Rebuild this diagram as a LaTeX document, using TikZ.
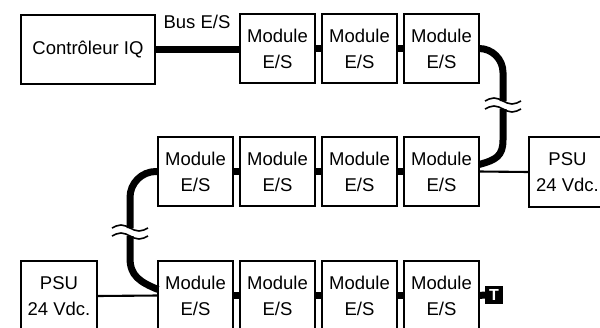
\documentclass[tikz,border=0pt]{standalone}
\usepackage{fontspec}
\setmainfont{Liberation Sans}
\begin{document}
\begin{tikzpicture}[x=1pt,y=-1pt,
  box/.style={draw, line width=2.1pt, anchor=north west, inner sep=0pt, outer sep=0pt,
    align=center, font=\fontsize{18.5}{26}\selectfont},
  modbox/.style={box, minimum width=75pt, minimum height=69pt},
  bus/.style={line width=7pt},
  wire/.style={line width=2.1pt},
  wave/.style={line width=1.6pt},
  lbl/.style={font=\fontsize{18.5}{26}\selectfont, anchor=base, inner sep=0pt},
  termbox/.style={fill=black, text=white, minimum width=18pt, minimum height=18pt,
    inner sep=0pt, outer sep=0pt, font=\fontsize{16}{16}\selectfont\bfseries}]
\useasboundingbox (0,0) rectangle (600,327);
\clip (0,0) rectangle (600,327);

% Row 1
\node[box, minimum width=134pt, minimum height=69pt] (ctrl) at (21,15) {Contrôleur IQ};
\node[modbox] (m11) at (240,14) {Module\\E/S};
\node[modbox] (m12) at (322,14) {Module\\E/S};
\node[modbox] (m13) at (404,14) {Module\\E/S};
\node[lbl] (buslbl) at (197,28) {Bus E/S};

% Row 2
\node[modbox] (m21) at (158,137) {Module\\E/S};
\node[modbox] (m22) at (240,137) {Module\\E/S};
\node[modbox] (m23) at (322,137) {Module\\E/S};
\node[modbox] (m24) at (404,137) {Module\\E/S};
\node[box, minimum width=77pt, minimum height=70pt] (psu2) at (529,137) {PSU\\24 Vdc.};

% Row 3
\node[box, minimum width=76pt, minimum height=70pt] (psu3) at (21,261) {PSU\\24 Vdc.};
\node[modbox] (m31) at (158,261) {Module\\E/S};
\node[modbox] (m32) at (240,261) {Module\\E/S};
\node[modbox] (m33) at (322,261) {Module\\E/S};
\node[modbox] (m34) at (404,261) {Module\\E/S};
\node[termbox] (term) at (494,295) {T};

% break coordinates
\coordinate (brRt) at (503,101);
\coordinate (brRb) at (503,109);
\coordinate (brLt) at (130,228);
\coordinate (brLb) at (130,236);

% Bus connectors
\draw[bus] (ctrl.east) -- (ctrl.east -| m11.west);
\draw[bus] (m11.east) -- (m12.west);
\draw[bus] (m12.east) -- (m13.west);
\draw[bus, rounded corners=24pt] (m13.east) -| (brRt);
\draw[bus] (brRb) -- (503,140) .. controls (503,156) and (496,160) .. ([yshift=7pt]m24.east);
\draw[bus] (m24.west) -- (m23.east);
\draw[bus] (m23.west) -- (m22.east);
\draw[bus] (m22.west) -- (m21.east);
\draw[bus, rounded corners=26pt] (m21.west) -| (brLt);
\draw[bus] (brLb) -- (130,258) .. controls (130,276) and (140,282) .. ([yshift=6pt]m31.west);
\draw[bus] (m31.east) -- (m32.west);
\draw[bus] (m32.east) -- (m33.west);
\draw[bus] (m33.east) -- (m34.west);
\draw[bus] (m34.east) -- (term.west);

% Power wires
\draw[wire] (m24.east) -- (psu2.west);
\draw[wire] (psu3.east) -- (m31.west);

% Break marks
\foreach \c in {brRt, brRb, brLt, brLb} {
  \draw[wave] ([xshift=-18pt]\c) sin ([xshift=-9pt,yshift=3pt]\c) cos (\c)
    sin ([xshift=9pt,yshift=-3pt]\c) cos ([xshift=18pt]\c);
}
\end{tikzpicture}
\end{document}
